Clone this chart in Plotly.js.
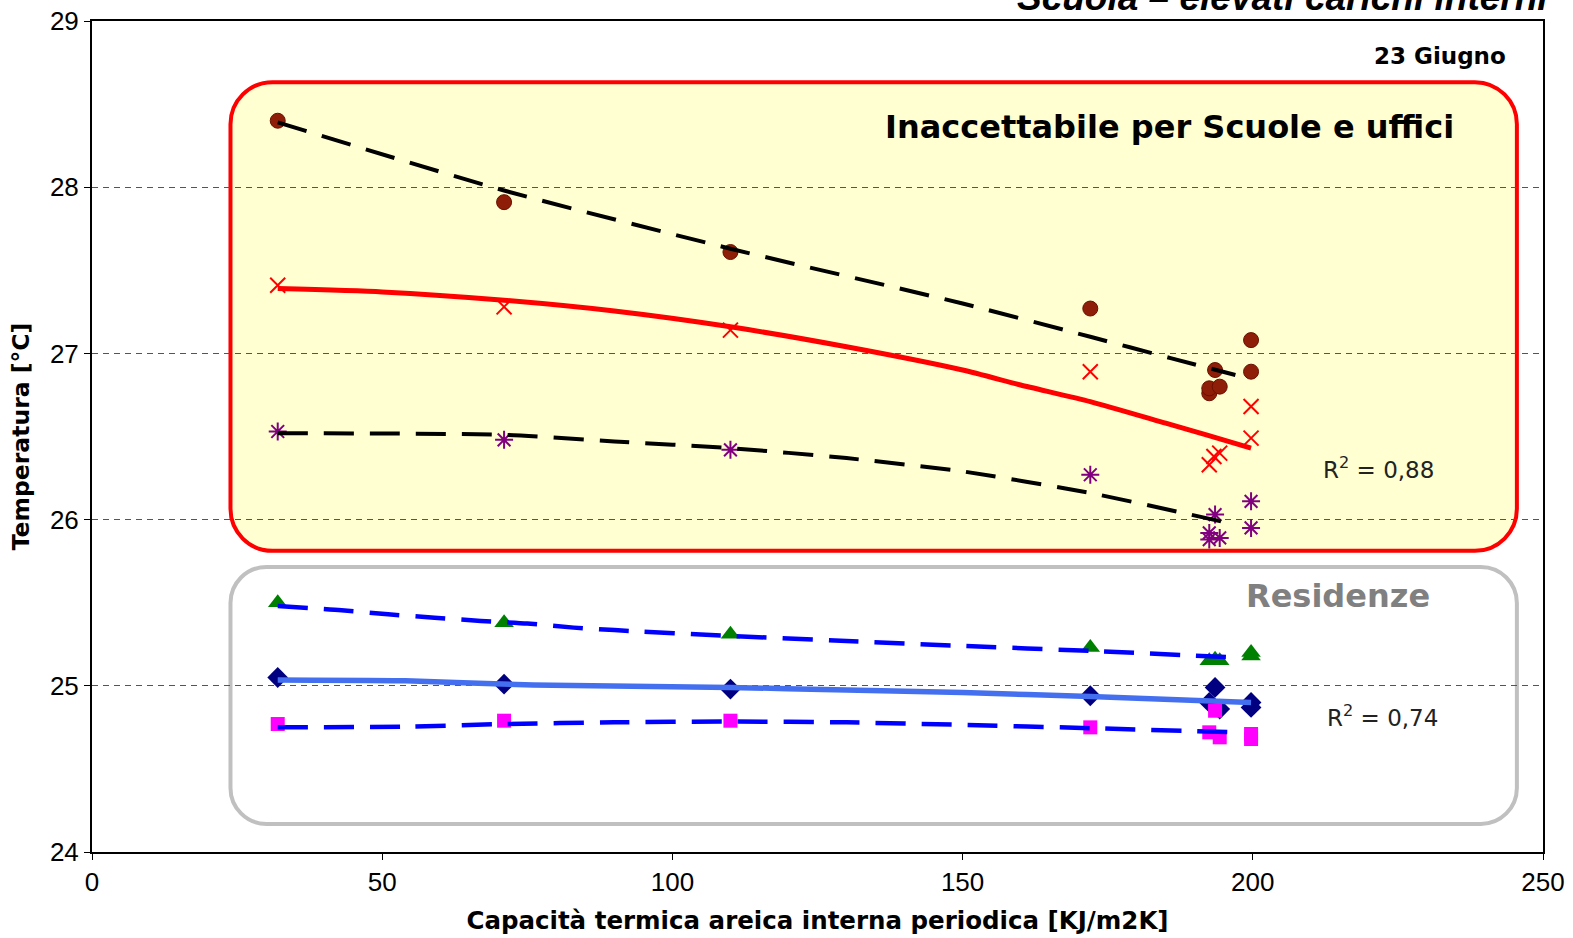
<!DOCTYPE html>
<html>
<head>
<meta charset="utf-8">
<script src="https://cdn.plot.ly/plotly-3.0.1.min.js"></script>
<style>html,body{margin:0;padding:0;background:#fff}#chart{width:1573px;height:938px}</style>
</head>
<body>
<div id="chart"></div>
<script>
// ---- data ----
const xCirc  = [32, 71, 110, 172, 192.5, 192.5, 193.5, 194.3, 199.7, 199.7];
const yCirc  = [28.40, 27.91, 27.61, 27.27, 26.76, 26.79, 26.90, 26.80, 27.08, 26.89];

const xCross = [32, 71, 110, 172, 192.5, 193.3, 194.3, 199.7, 199.7];
const yCross = [27.41, 27.28, 27.14, 26.89, 26.33, 26.38, 26.40, 26.68, 26.49];

const xStar  = [32, 71, 110, 172, 192.5, 192.5, 193.5, 194.3, 199.7, 199.7];
const yStar  = [26.53, 26.48, 26.42, 26.27, 25.92, 25.88, 26.03, 25.89, 26.11, 25.95];

const xTri   = [32, 71, 110, 172, 192.5, 193.5, 194.3, 199.7, 199.7];
const yTri   = [25.50, 25.38, 25.31, 25.23, 25.15, 25.16, 25.15, 25.20, 25.18];

const xDia   = [32, 71, 110, 172, 192.5, 193.5, 194.3, 199.7, 199.7];
const yDia   = [25.05, 25.01, 24.98, 24.94, 24.90, 24.99, 24.86, 24.90, 24.87];

const xSq    = [32, 71, 110, 172, 192.5, 193.5, 194.3, 199.7, 199.7];
const ySq    = [24.77, 24.79, 24.79, 24.75, 24.72, 24.85, 24.69, 24.71, 24.68];

// trend lines
const trUpX  = [32, 71, 110, 150, 172, 186, 197];
const trUpY  = [28.39, 27.98, 27.63, 27.30, 27.10, 26.97, 26.87];
const trMidX = [32, 50, 71, 90, 110, 130, 150, 160, 172, 185, 192, 199.7];
const trMidY = [27.39, 27.37, 27.32, 27.255, 27.16, 27.04, 26.90, 26.81, 26.71, 26.58, 26.51, 26.43];
const trLowX = [32, 71, 90, 110, 130, 150, 172, 188, 197];
const trLowY = [26.52, 26.51, 26.47, 26.43, 26.37, 26.29, 26.16, 26.04, 25.97];

const trRUpX  = [32, 43, 51, 59, 67, 75, 83, 90, 110, 130, 150, 172, 197];
const trRUpY  = [25.48, 25.455, 25.43, 25.41, 25.39, 25.375, 25.35, 25.335, 25.30, 25.27, 25.24, 25.21, 25.17];
const trRMidX = [32, 54, 76, 110, 130, 150, 172, 199.7];
const trRMidY = [25.035, 25.03, 25.005, 24.99, 24.975, 24.96, 24.935, 24.90];
const trRLowX = [32, 55, 71, 90, 110, 130, 150, 172, 197];
const trRLowY = [24.75, 24.755, 24.77, 24.78, 24.785, 24.78, 24.765, 24.745, 24.72];

const xTicks = [0, 50, 100, 150, 200, 250];
const yTicks = [24, 25, 26, 27, 28, 29];

// ---- layout helpers ----
const W = 1573, H = 938, M = {l: 92, r: 30, t: 21, b: 86, pad: 0};
const pxX = (W - M.l - M.r) / 250, pxY = (H - M.t - M.b) / 5;
function roundRect(x0, x1, y0, y1, r) {
  const rx = r / pxX, ry = r / pxY, k = 0.5523;
  return `M${x0+rx},${y1} L${x1-rx},${y1} C${x1-rx+k*rx},${y1} ${x1},${y1-ry+k*ry} ${x1},${y1-ry} ` +
         `L${x1},${y0+ry} C${x1},${y0+ry-k*ry} ${x1-rx+k*rx},${y0} ${x1-rx},${y0} ` +
         `L${x0+rx},${y0} C${x0+rx-k*rx},${y0} ${x0},${y0+ry-k*ry} ${x0},${y0+ry} ` +
         `L${x0},${y1-ry} C${x0},${y1-ry+k*ry} ${x0+rx-k*rx},${y1} ${x0+rx},${y1} Z`;
}

const mk = (x, y, symbol, color, size, lw, lc) => ({
  x, y, type: 'scatter', mode: 'markers', hoverinfo: 'skip',
  marker: {symbol, color, size, line: {width: lw, color: lc || color}}
});
const ln = (x, y, color, width, dash) => ({
  x, y, type: 'scatter', mode: 'lines', hoverinfo: 'skip',
  line: {color, width, dash, shape: 'spline', smoothing: 0.6}
});

const D = '30px,16px';
const traces = [
  mk(xCirc, yCirc, 'circle', '#8E1E08', 15, 1, '#6a1000'),
  mk(xCross, yCross, 'x-thin-open', '#FF0000', 15, 2),
  mk(xStar, yStar, 'asterisk-open', '#800080', 15, 2),
  mk(xTri, yTri, 'triangle-up', '#008000', 17, 0),
  mk(xDia, yDia, 'diamond', '#000080', 16, 0),
  mk(xSq, ySq, 'square', '#FF00FF', 14, 0),
  ln(trUpX, trUpY, '#000000', 4, D),
  ln(trMidX, trMidY, '#FF0000', 5, 'solid'),
  ln(trLowX, trLowY, '#000000', 4, D),
  ln(trRUpX, trRUpY, '#0000FF', 4.5, D),
  ln(trRMidX, trRMidY, '#4470F0', 5.5, 'solid'),
  ln(trRLowX, trRLowY, '#0000FF', 4.5, D)
];

const bold = 'DejaVu Sans, Verdana, sans-serif';
const layout = {
  width: W, height: H, margin: M, showlegend: false,
  paper_bgcolor: '#ffffff', plot_bgcolor: '#ffffff',
  xaxis: {
    range: [0, 250], tickvals: xTicks, ticktext: xTicks.map(String),
    ticks: 'outside', ticklen: 6, tickwidth: 1, tickcolor: '#000',
    showline: true, mirror: true, linecolor: '#000', linewidth: 2,
    showgrid: false, zeroline: false,
    tickfont: {family: 'Liberation Sans, Arial', size: 26, color: '#000'},
    title: {text: 'Capacità termica areica interna periodica [KJ/m2K]', standoff: 16,
            font: {family: bold, size: 24.5, color: '#000', weight: 'bold'}}
  },
  yaxis: {
    range: [24, 29], tickvals: yTicks, ticktext: yTicks.map(String),
    ticks: 'outside', ticklen: 6, tickwidth: 1, tickcolor: '#000',
    showline: true, mirror: true, linecolor: '#000', linewidth: 2,
    showgrid: true, gridcolor: '#555', gridwidth: 1, griddash: '6px,5px', zeroline: false,
    tickfont: {family: 'Liberation Sans, Arial', size: 26, color: '#000'},
    title: {text: 'Temperatura [°C]', standoff: 14,
            font: {family: bold, size: 23.5, color: '#000', weight: 'bold'}}
  },
  shapes: [
    {type: 'path', xref: 'x', yref: 'y', layer: 'below',
     path: roundRect(23.86, 245.5, 25.812, 28.632, 42),
     fillcolor: 'rgb(255,255,210)', line: {color: '#FF0000', width: 4}},
    {type: 'path', xref: 'x', yref: 'y', layer: 'below',
     path: roundRect(23.86, 245.5, 24.169, 25.715, 36),
     fillcolor: '#ffffff', line: {color: '#C0C0C0', width: 4}}
  ],
  annotations: [
    {text: 'Scuola – elevati carichi interni', xref: 'paper', yref: 'paper', x: 1.005, y: 1.0, yshift: 1,
     xanchor: 'right', yanchor: 'bottom', showarrow: false,
     font: {family: 'Liberation Sans, Arial', size: 37, color: '#000', weight: 'bold', style: 'italic'}},
    {text: '<b>23 Giugno</b>', xref: 'x', yref: 'y', x: 244, y: 28.79, xanchor: 'right', yanchor: 'middle',
     showarrow: false, font: {family: bold, size: 23, color: '#000'}},
    {text: '<b>Inaccettabile per Scuole e uffici</b>', xref: 'x', yref: 'y', x: 235, y: 28.36,
     xanchor: 'right', yanchor: 'middle', showarrow: false, font: {family: bold, size: 32, color: '#000'}},
    {text: '<b>Residenze</b>', xref: 'x', yref: 'y', x: 230.8, y: 25.54,
     xanchor: 'right', yanchor: 'middle', showarrow: false, font: {family: bold, size: 32, color: '#808080'}},
    {text: 'R<sup>2</sup> = 0,88', xref: 'x', yref: 'y', x: 211.8, y: 26.31,
     xanchor: 'left', yanchor: 'middle', showarrow: false, font: {family: bold, size: 23, color: '#222'}},
    {text: 'R<sup>2</sup> = 0,74', xref: 'x', yref: 'y', x: 212.5, y: 24.82,
     xanchor: 'left', yanchor: 'middle', showarrow: false, font: {family: bold, size: 23, color: '#222'}}
  ]
};

Plotly.newPlot('chart', traces, layout, {staticPlot: true, displayModeBar: false});
</script>
</body>
</html>
